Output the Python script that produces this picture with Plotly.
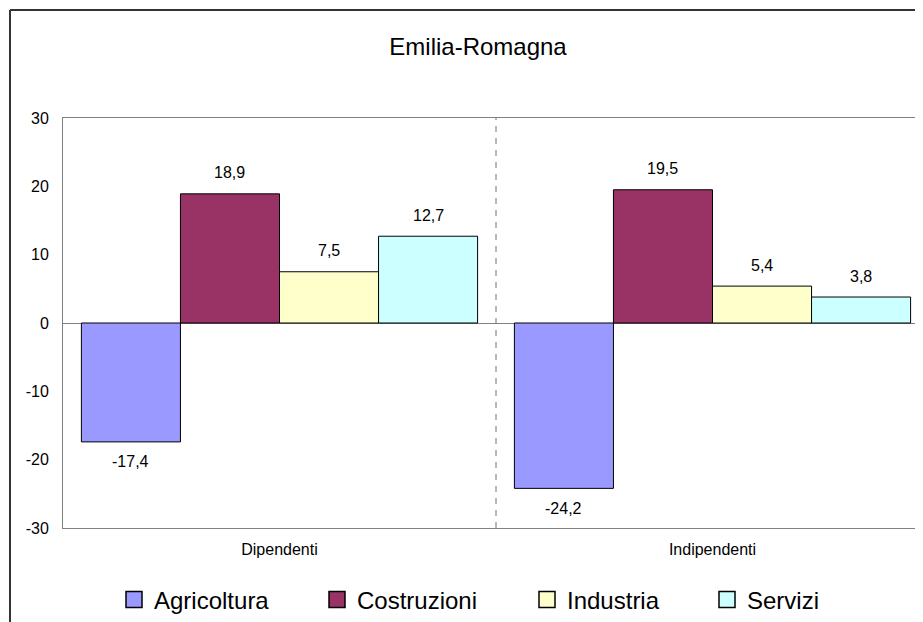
import plotly.graph_objects as go

categories = ["Dipendenti", "Indipendenti"]
series_names = ["Agricoltura", "Costruzioni", "Industria", "Servizi"]
agricoltura = [-17.4, -24.2]
costruzioni = [18.9, 19.5]
industria = [7.5, 5.4]
servizi = [12.7, 3.8]
colors = ["#9999FF", "#993366", "#FFFFCC", "#CCFFFF"]
y_tickvals = [-30, -20, -10, 0, 10, 20, 30]
y_ticktext = ["-30", "-20", "-10", "0", "10", "20", "30"]

FONT = "Arial, Liberation Sans, sans-serif"

# page is drawn with an 8px body margin; lay out in page pixels and convert
OFF = 8
W, H = 923 - OFF, 622 - OFF
L, T, B = 63 - OFF, 118 - OFF, 94
pw = W - L
ph = H - T - B
BARGAP = 0.085
NS = len(series_names)
bw = (1 - BARGAP) / NS


def px_x(page_x):
    return (page_x - OFF - L) / pw


def px_y(page_y):
    return (H - B - (page_y - OFF)) / ph


def cx(page_x):
    return (page_x - OFF) / W


def cy(page_y):
    return 1 - (page_y - OFF) / H


fig = go.Figure()
all_vals = [agricoltura, costruzioni, industria, servizi]
legend_ids = ["legend", "legend2", "legend3", "legend4"]
for k, (name, vals, col) in enumerate(zip(series_names, all_vals, colors)):
    fig.add_trace(go.Bar(
        x=categories, y=vals, name=name,
        marker=dict(color=col, line=dict(color="black", width=1)),
        showlegend=False,
    ))
    fig.add_trace(go.Scatter(
        x=[None], y=[None], mode="markers", name=name, legend=legend_ids[k],
        marker=dict(symbol="square", size=16, color=col, line=dict(color="black", width=1.5)),
        showlegend=True,
    ))
    for i, v in enumerate(vals):
        fig.add_annotation(
            x=i + (k - (NS - 1) / 2) * bw, y=v, xref="x", yref="y",
            text=f"{v:.1f}".replace(".", ","), showarrow=False,
            yanchor="middle", xanchor="center", yshift=21 if v >= 0 else -20,
            font=dict(family=FONT, size=16, color="black"),
        )

# dashed divider between categories
fig.add_shape(type="line", xref="x", yref="y", x0=0.5, x1=0.5, y0=-30, y1=30,
              line=dict(color="#707070", width=1, dash="6px,6px"), layer="above")
# outer chart border (left and top)
fig.add_shape(type="line", xref="paper", yref="paper", x0=px_x(10), x1=px_x(10),
              y0=px_y(660), y1=px_y(10), line=dict(color="#333333", width=2))
fig.add_shape(type="line", xref="paper", yref="paper", x0=px_x(10), x1=px_x(960),
              y0=px_y(10), y1=px_y(10), line=dict(color="#333333", width=2))

legend_page_x = [114, 317, 527, 707]
legend_common = dict(orientation="h", xref="container", yref="container",
                     xanchor="left", yanchor="middle", y=cy(600),
                     font=dict(family=FONT, size=24, color="black"),
                     bgcolor="rgba(0,0,0,0)", itemclick=False, itemdoubleclick=False)

fig.update_layout(
    width=W, height=H,
    margin=dict(l=L, r=0, t=T, b=B, pad=0, autoexpand=False),
    paper_bgcolor="white", plot_bgcolor="white",
    barmode="group", bargap=BARGAP, bargroupgap=0,
    font=dict(family=FONT, color="black"),
    title=dict(text="Emilia-Romagna", xref="container", yref="container",
               x=cx(478), y=cy(47), xanchor="center", yanchor="middle",
               font=dict(family=FONT, size=24, color="black")),
    xaxis=dict(range=[-0.5, -0.5 + pw / 433], showline=True, mirror=True, linecolor="#808080",
               linewidth=1, showgrid=False, ticks="", ticklabelstandoff=7,
               tickfont=dict(family=FONT, size=16, color="black"), fixedrange=True),
    yaxis=dict(range=[-30, 30], tickvals=y_tickvals, ticktext=y_ticktext, showline=True,
               linecolor="#808080", linewidth=1, showgrid=False, zeroline=True,
               zerolinecolor="#808080", zerolinewidth=1, ticks="", ticklabelstandoff=10,
               tickfont=dict(family=FONT, size=16, color="black")),
    legend=dict(x=cx(legend_page_x[0]), **legend_common),
    legend2=dict(x=cx(legend_page_x[1]), **legend_common),
    legend3=dict(x=cx(legend_page_x[2]), **legend_common),
    legend4=dict(x=cx(legend_page_x[3]), **legend_common),
)

fig.write_html("out.html")
